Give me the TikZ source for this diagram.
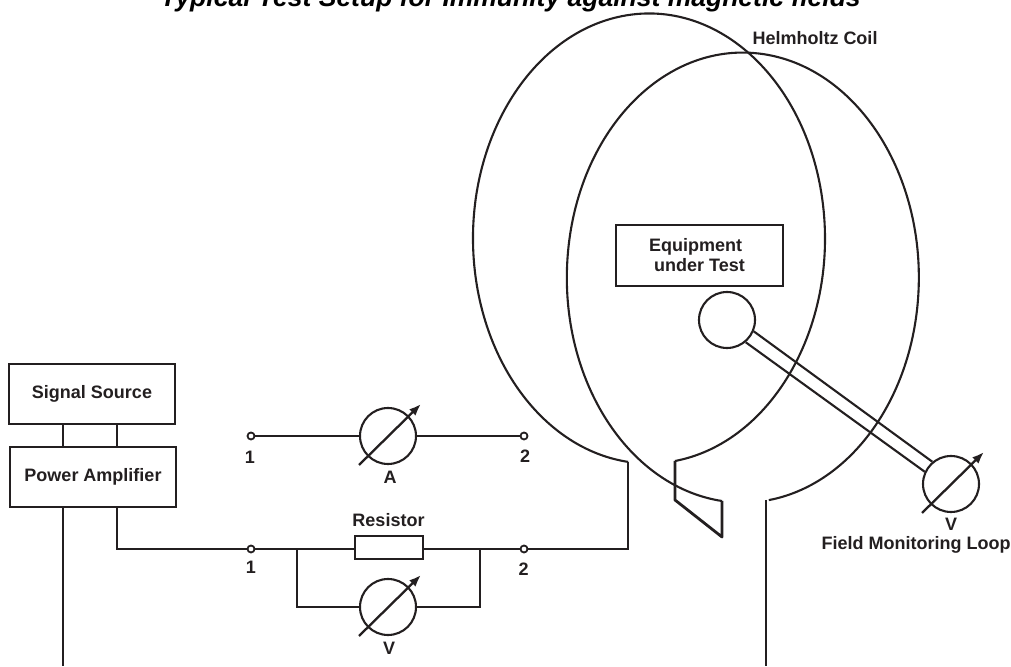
\documentclass[tikz,border=0pt]{standalone}
\usepackage{fontspec}
\setmainfont{Liberation Sans}
\usetikzlibrary{arrows.meta}
\definecolor{inkline}{HTML}{231F20}
\tikzset{
  wire/.style={draw=inkline,line width=2.8pt},
  thinwire/.style={draw=inkline,line width=2.1pt},
  unit/.style={draw=inkline,line width=2.2pt,rectangle,inner sep=0pt,font=\fontsize{18}{20}\selectfont\bfseries,text=inkline,align=center},
  meter/.style={draw=inkline,line width=2.1pt,circle,inner sep=0pt,minimum size=56pt},
  terminal/.style={draw=inkline,line width=1.8pt,circle,inner sep=0pt,minimum size=7pt,fill=white},
  tag/.style={inner sep=0pt,font=\fontsize{18}{20}\selectfont\bfseries,text=inkline},
  needle/.style={draw=inkline,line width=2.3pt,-{Latex[length=12pt,width=9pt]}}
}
\begin{document}
\begin{tikzpicture}[x=1pt,y=1pt]
\useasboundingbox (0,0) rectangle (1011,666);

\node[anchor=base,inner sep=0pt,font=\fontsize{26.5}{28}\selectfont\bfseries\itshape,text=black] (title) at (510.5,659) {Typical Test Setup for Immunity against magnetic fields};

% coil
\path[shape=coordinate]
(628,204) coordinate(c11) (675,205) coordinate(c12)
(675,166) coordinate(c13) (722,129) coordinate(c14)
(722,165) coordinate(c21) (766,166) coordinate(c22)
(766,0) coordinate(c23);
\draw[thinwire] (c12) arc[start angle=278.5,end angle=623.2,x radius=176,y radius=225];
\draw[thinwire] (c21) arc[start angle=263.2,end angle=-81.5,x radius=176,y radius=225];
\draw[wire,line join=round] (c12) -- (c13) -- (c14) -- (c21);
\draw[wire] (c22) -- (c23);

% boxes
\node[unit,minimum width=166pt,minimum height=60pt] (source) at (92,272) {Signal Source};
\node[unit,minimum width=166pt,minimum height=60pt] (amp) at (93,189) {Power Amplifier};
\node[unit,minimum width=167pt,minimum height=61pt] (eut) at (699.5,410.5) {Equipment\hspace*{8pt}\\under Test};
\node[draw=inkline,line width=1.8pt,rectangle,inner sep=0pt,minimum width=68pt,minimum height=23pt] (res) at (389,118.5) {};

% meters
\node[meter] (ma) at (388,230) {};
\node[meter] (mv) at (388,59) {};
\node[meter] (mf) at (951,182) {};
\node[meter] (loop) at (727,346) {};

% terminals
\node[terminal] (t1) at (251,230) {};
\node[terminal] (t2) at (524,230) {};
\node[terminal] (t3) at (251,117) {};
\node[terminal] (t4) at (524,117) {};

% labels
\node[tag] (l1) at (250,209) {1};
\node[tag] (l2) at (525,210) {2};
\node[tag] (la) at (390,189) {A};
\node[tag] (l3) at (251,99) {1};
\node[tag] (l4) at (523.5,97) {2};
\node[tag] (lr) at (388.5,146) {Resistor};
\node[tag] (lv) at (389,18) {V};
\node[tag] (lf) at (951,142) {V};
\node[tag] (lm) at (916,121) {Field Monitoring Loop};
\node[tag] (lh) at (815,628) {Helmholtz Coil};

% wiring
\path[shape=coordinate]
(63,0) coordinate(g1) (117,117) coordinate(w1)
(297,117) coordinate(b1) (480,117) coordinate(b2)
(297,59) coordinate(b3) (480,59) coordinate(b4)
(628,117) coordinate(w2);
\draw[wire] (g1 |- source.south) -- (g1 |- amp.north);
\draw[wire] (w1 |- source.south) -- (w1 |- amp.north);
\draw[wire] (g1 |- amp.south) -- (g1);
\draw[wire] (w1 |- amp.south) -- (w1) -- (t3);
\draw[wire] (t3) -- (t3 -| res.west);
\draw[wire] (t4 -| res.east) -- (t4);
\draw[wire] (t4) -- (w2) -- (c11);
\draw[wire] (b1) -- (b3) -- (mv);
\draw[wire] (b2) -- (b4) -- (mv);
\draw[wire] (t1) -- (ma);
\draw[wire] (ma) -- (t2);
\draw[thinwire] (loop.-23) -- (mf.130);
\draw[thinwire] (loop.-50) -- (mf.155);

% needles
\foreach \m in {ma,mv,mf}
  \draw[needle] ([shift={(-29,-29)}]\m.center) -- ([shift={(33,32)}]\m.center);

\end{tikzpicture}
\end{document}
